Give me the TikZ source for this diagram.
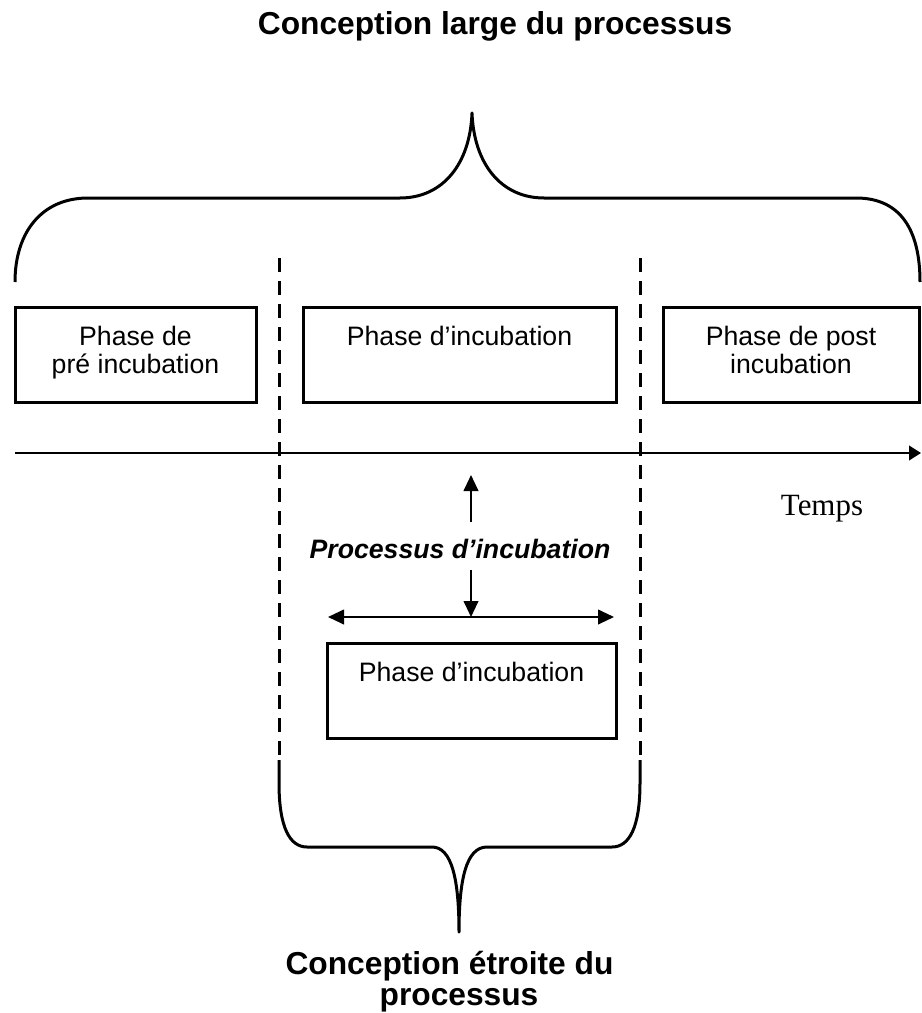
\documentclass[tikz,border=0pt]{standalone}
\usepackage{fontspec}
\setmainfont{Liberation Sans}
\newfontfamily\tempsfont{Liberation Serif}
\usetikzlibrary{arrows.meta}

\begin{document}
\begin{tikzpicture}[x=0.75pt, y=-0.75pt,
    % Styles des boites de phase
    phase/.style={rectangle, draw, line width=2.25pt, align=center, inner sep=0pt,
                  minimum height=71.25pt, font=\fontsize{20}{21}\selectfont},
    % Style des titres
    titre/.style={align=center, font=\fontsize{23.8}{23.3}\selectfont\bfseries},
    % Style des fleches
    fleche/.style={-{Triangle[length=12pt, width=11pt]}, line width=1.5pt},
    axe/.style={-{Triangle[length=9pt, width=11pt]}, line width=1.5pt},
    % Style des limites et accolades
    limite/.style={line width=2.25pt, dash pattern=on 10.5pt off 6.75pt},
    accolade/.style={line width=2.25pt, line join=round}
]
\useasboundingbox (0,0) rectangle (921,1013);

% ==========================================
% CONCEPTION LARGE (haut)
% ==========================================
\node[titre, anchor=base] (large) at (495,35) {Conception large du processus};

\draw[accolade] (15,282) .. controls (15,232) and (42,198) .. (88,198) -- (400,198)
    .. controls (442,198) and (470,165) .. (472,113)
    .. controls (474,165) and (502,198) .. (544,198) -- (856,198)
    .. controls (902,198) and (920,232) .. (920,282);

% Limites de la phase d'incubation
\draw[limite] (279,258) -- (279,760);
\draw[limite] (640,258) -- (640,760);

% Phases
\node[phase, minimum width=180.75pt] (pre) at (135.5,354.5) {Phase de\\pré incubation\strut};
\node[phase, minimum width=234.75pt] (incub) at (459.5,354.5) {Phase d’incubation\\\strut};
\node[phase, minimum width=192pt] (post) at (791,354.5) {Phase de post\\incubation\strut};

% Axe du temps
\coordinate (t0) at (15,453);
\coordinate (t1) at (921,453);
\draw[axe] (t0) -- (t1);
\node[anchor=base, font=\tempsfont\fontsize{23.2}{26}\selectfont] (temps) at (822,515) {Temps};

% ==========================================
% PROCESSUS D'INCUBATION (centre)
% ==========================================
\node[anchor=base, font=\fontsize{20}{24}\selectfont\bfseries\itshape] (processus) at (460,558) {Processus d’incubation};

\coordinate (h0) at (471,522);
\coordinate (h1) at (471,475);
\coordinate (b0) at (471,570);
\coordinate (b1) at (471,617);
\coordinate (dg) at (328,617);
\coordinate (dd) at (614,617);
\draw[fleche] (h0) -- (h1);
\draw[fleche] (b0) -- (b1);
\draw[fleche, {Triangle[length=12pt, width=11pt]}-{Triangle[length=12pt, width=11pt]}] (dg) -- (dd);

\node[phase, minimum width=216.75pt] (incub2) at (471.5,690.5) {Phase d’incubation\\\strut};

% ==========================================
% CONCEPTION ETROITE (bas)
% ==========================================
\draw[accolade] (279,760) -- (279,783) .. controls (279,828) and (290,847) .. (307,847) -- (432,847)
    .. controls (452,847) and (459,880) .. (459,932)
    .. controls (459,880) and (466,847) .. (487,847) -- (612,847)
    .. controls (629,847) and (640,828) .. (640,783) -- (640,760);

\node[titre] (etroite) at (459,982) {Conception étroite du\hspace*{.6em}\\processus};

\end{tikzpicture}
\end{document}
